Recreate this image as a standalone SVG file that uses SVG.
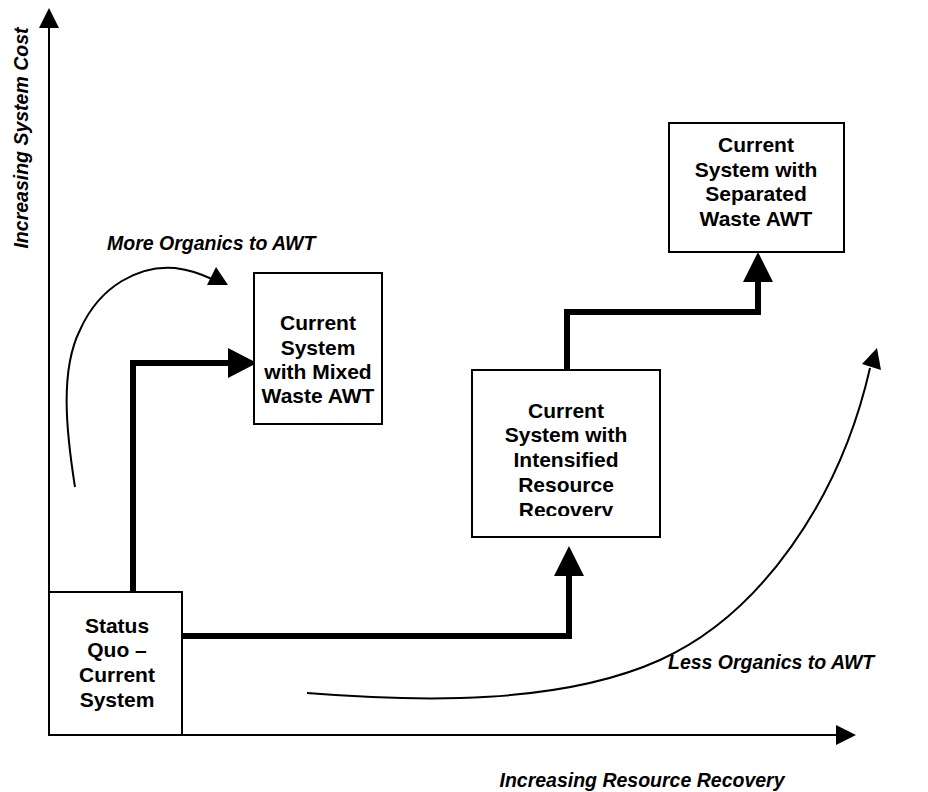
<svg xmlns="http://www.w3.org/2000/svg" width="928" height="792" viewBox="0 0 928 792">
<style>
.box{fill:#fff;stroke:#000;stroke-width:2}
.bt{font-family:"Liberation Sans",Arial,sans-serif;font-weight:bold;font-size:21px;text-anchor:middle;fill:#000}
.lbl{font-family:"Liberation Sans",Arial,sans-serif;font-weight:bold;font-style:italic;font-size:19.5px;fill:#000}
.thick{fill:none;stroke:#000;stroke-width:6;stroke-linejoin:miter}
.thin{fill:none;stroke:#000;stroke-width:2}
.head{fill:#000}
</style>
<defs>
<clipPath id="clipRec"><rect x="472" y="370" width="188" height="146"/></clipPath>
</defs>
<rect width="928" height="792" fill="#fff"/>
<g id="axes">
<line class="thin" x1="49" y1="736" x2="49" y2="26"/>
<polygon class="head" points="49,8 39,28 59,28"/>
<line class="thin" x1="48" y1="735" x2="838" y2="735"/>
<polygon class="head" points="856,735 836,725 836,745"/>
<text class="lbl" transform="translate(28,138) rotate(-90)" text-anchor="middle">Increasing System Cost</text>
<text class="lbl" x="642" y="787" text-anchor="middle">Increasing Resource Recovery</text>
</g>
<g id="connectors">
<path class="thick" d="M133,592 V363 H230"/>
<polygon class="head" points="257,363 228,348 228,378"/>
<path class="thick" d="M182,636 H569 V574"/>
<polygon class="head" points="569,546 554,576 584,576"/>
<path class="thick" d="M567,370 V312 H758 V280"/>
<polygon class="head" points="758,252 743,282 773,282"/>
<path class="thin" d="M75,487 C66,430 60,370 80,330 C100,285 140,265 175,268 C190,270 198,273 212,279"/>
<polygon class="head" points="228,285 216,267 207,285"/>
<path class="thin" d="M307,693 C420,702 560,705 660,660 C760,615 840,500 870,368"/>
<polygon class="head" points="877,348 862,364 881,370"/>
</g>
<g id="label-more"><text class="lbl" x="107" y="250">More Organics to AWT</text></g>
<g id="label-less"><text class="lbl" x="668" y="669">Less Organics to AWT</text></g>
<g id="node-status">
<rect class="box" x="49" y="592" width="133" height="143"/>
<text class="bt" x="117" y="633">Status</text>
<text class="bt" x="117" y="657">Quo –</text>
<text class="bt" x="117" y="682">Current</text>
<text class="bt" x="117" y="707">System</text>
</g>
<g id="node-mixed">
<rect class="box" x="254" y="273" width="128" height="151"/>
<text class="bt" x="318" y="330">Current</text>
<text class="bt" x="318" y="355">System</text>
<text class="bt" x="318" y="379">with Mixed</text>
<text class="bt" x="318" y="403">Waste AWT</text>
</g>
<g id="node-intensified">
<rect class="box" x="472" y="370" width="188" height="167"/>
<g clip-path="url(#clipRec)">
<text class="bt" x="566" y="418">Current</text>
<text class="bt" x="566" y="442">System with</text>
<text class="bt" x="566" y="467">Intensified</text>
<text class="bt" x="566" y="492">Resource</text>
<text class="bt" x="566" y="517">Recovery</text>
</g>
</g>
<g id="node-separated">
<rect class="box" x="669" y="123" width="175" height="129"/>
<text class="bt" x="756" y="152">Current</text>
<text class="bt" x="756" y="177">System with</text>
<text class="bt" x="756" y="201">Separated</text>
<text class="bt" x="756" y="226">Waste AWT</text>
</g>
</svg>
